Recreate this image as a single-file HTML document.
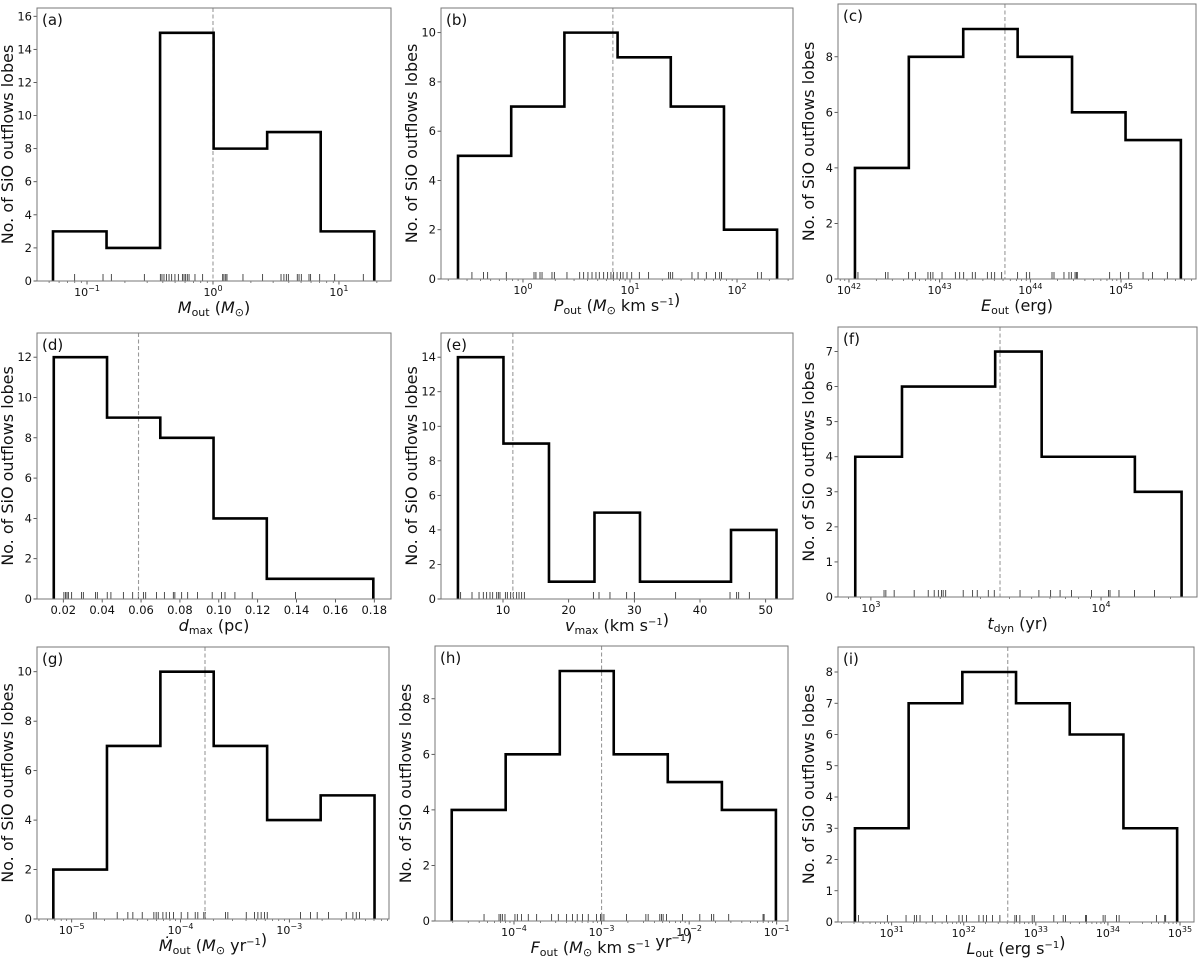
<!DOCTYPE html>
<html><head><meta charset="utf-8"><style>
html,body{margin:0;padding:0;background:#fff;}
svg{display:block;font-family:"DejaVu Sans","Liberation Sans",sans-serif;}
</style></head><body>
<svg id="fig" width="1200" height="959" viewBox="0 0 1200 959" xmlns="http://www.w3.org/2000/svg"></svg>
<script>
// ---- data (log10 values for log-scaled panels) ----
const aEdges=[-1.27,-0.845,-0.42,0.005,0.43,0.855,1.28];
const aCounts=[3,2,15,8,9,3];
const aMedian=0.0;
const aRug=[-1.098,-0.873,-0.807,-0.545,-0.418,-0.405,-0.389,-0.370,-0.349,-0.328,-0.302,-0.275,-0.243,-0.230,-0.217,-0.204,-0.190,-0.143,-0.082,0.077,0.087,0.101,0.111,0.238,0.394,0.540,0.563,0.582,0.598,0.669,0.683,0.701,0.762,0.775,0.847,0.966,1.193];

const bEdges=[-0.607,-0.11,0.387,0.884,1.381,1.878,2.374];
const bCounts=[5,7,10,9,7,2];
const bMedian=0.84;
const bRug=[-0.477,-0.368,-0.330,-0.156,0.103,0.121,0.159,0.178,0.271,0.293,0.411,0.530,0.567,0.607,0.645,0.682,0.713,0.754,0.791,0.822,0.847,0.879,0.910,0.935,0.972,1.016,1.087,1.174,1.361,1.377,1.399,1.579,1.636,1.713,1.798,1.838,1.854,2.193,2.227];

const cEdges=[42.066,42.66,43.26,43.86,44.46,45.05,45.66];
const cCounts=[4,8,9,8,6,5];
const cMedian=43.72;
const cRug=[42.099,42.404,42.430,42.658,42.732,42.871,42.901,42.926,43.026,43.173,43.221,43.265,43.360,43.393,43.526,43.570,43.607,43.684,43.860,43.956,43.993,44.239,44.261,44.371,44.426,44.452,44.493,44.507,44.518,44.875,44.993,45.085,45.243,45.346,45.511];

const dEdges=[0.0151,0.0425,0.0699,0.0973,0.1247,0.1521,0.1795];
const dCounts=[12,9,8,4,1,1];
const dMedian=0.0587;
const dRug=[0.0203,0.0212,0.0219,0.0226,0.0243,0.0294,0.0303,0.0366,0.0375,0.0426,0.0445,0.0509,0.0557,0.0586,0.0612,0.0624,0.0680,0.0720,0.0766,0.0774,0.0809,0.0840,0.0891,0.0966,0.1014,0.1032,0.1083,0.1172,0.1395];

const eEdges=[3.14,10.07,17.0,23.93,30.86,37.79,44.72,51.65];
const eCounts=[14,9,1,5,1,1,4];
const eMedian=11.5;
const eRug=[3.55,5.28,6.35,7.0,7.51,8.02,8.43,9.04,9.29,9.54,10.36,10.66,11.17,11.57,12.08,12.44,12.84,13.25,23.76,24.62,26.29,28.83,30.0,36.29,44.57,45.58,45.89,47.51];

const fEdges=[2.932,3.135,3.337,3.540,3.742,3.945,4.147,4.350];
const fCounts=[4,6,6,7,4,4,3];
const fMedian=3.561;
const fRug=[3.057,3.065,3.101,3.188,3.249,3.275,3.293,3.307,3.314,3.325,3.401,3.442,3.462,3.510,3.536,3.648,3.730,3.781,3.822,3.872,3.959,4.032,4.039,4.078,4.145,4.232];

const gEdges=[-5.169,-4.676,-4.185,-3.695,-3.204,-2.712,-2.217];
const gCounts=[2,7,10,7,4,5];
const gMedian=-3.775;
const gRug=[-4.797,-4.775,-4.582,-4.484,-4.438,-4.352,-4.245,-4.224,-4.205,-4.162,-4.132,-4.101,-4.064,-3.994,-3.933,-3.865,-3.841,-3.786,-3.773,-3.586,-3.565,-3.396,-3.320,-3.289,-3.259,-3.228,-3.203,-2.897,-2.805,-2.744,-2.640,-2.477,-2.416,-2.385,-2.355];

const hEdges=[-4.711,-4.095,-3.477,-2.861,-2.244,-1.626,-1.009];
const hCounts=[4,6,9,6,5,4];
const hMedian=-3.0;
const hRug=[-4.342,-4.171,-4.152,-4.133,-4.103,-3.989,-3.962,-3.913,-3.837,-3.741,-3.570,-3.494,-3.399,-3.331,-3.278,-3.217,-3.152,-3.057,-3.011,-2.996,-2.973,-2.715,-2.494,-2.468,-2.335,-2.316,-2.297,-2.259,-2.076,-1.878,-1.745,-1.719,-1.548,-1.156,-1.144];

const iEdges=[30.49,31.235,31.98,32.725,33.47,34.215,34.96];
const iCounts=[3,7,8,7,6,3];
const iMedian=32.61;
const iRug=[30.538,30.940,31.199,31.314,31.346,31.393,31.564,31.762,31.933,31.979,32.039,32.210,32.270,32.316,32.400,32.501,32.709,32.732,32.778,32.949,32.977,33.249,33.379,33.411,33.688,33.702,33.933,33.961,34.118,34.155,34.672,34.788,34.801];

const linTicksD=[0.02,0.04,0.06,0.08,0.10,0.12,0.14,0.16,0.18];
const linTicksE=[10,20,30,40,50];

const S='<tspan dy="3" font-size="11">';
const SE='</tspan><tspan dy="-3"> </tspan>';
const P='<tspan dy="-6" font-size="10">';
const PE='</tspan><tspan dy="6"></tspan>';
const I=t=>'<tspan font-style="italic">'+t+'</tspan>';
const panels=[
 {id:'a',box:[37,8,391,281],log:true,xr:[-1.397,1.413],edges:aEdges,counts:aCounts,med:aMedian,rug:aRug,ystep:2,xl:I('M')+S+'out'+SE+'('+I('M')+S+'⊙</tspan><tspan dy="-3">)</tspan>'},
 {id:'b',box:[441,8,793,279],log:true,xr:[-0.766,2.523],edges:bEdges,counts:bCounts,med:bMedian,rug:bRug,ystep:2,xl:I('P')+S+'out'+SE+'('+I('M')+S+'⊙</tspan><tspan dy="-3"> km s</tspan>'+P+'−1'+PE+'<tspan>)</tspan>'},
 {id:'c',box:[838,4,1196,279],log:true,xr:[41.879,45.827],edges:cEdges,counts:cCounts,med:cMedian,rug:cRug,ystep:2,xl:I('E')+S+'out'+SE+'(erg)'},
 {id:'d',box:[37,333,391,599],log:false,xr:[0.00647,0.1886],edges:dEdges,counts:dCounts,med:dMedian,rug:dRug,ystep:2,ticks:linTicksD,fmt:v=>v.toFixed(2),xl:I('d')+S+'max'+SE+'(pc)'},
 {id:'e',box:[441,333,793,599],log:false,xr:[0.559,54.16],edges:eEdges,counts:eCounts,med:eMedian,rug:eRug,ystep:2,ticks:linTicksE,fmt:v=>String(v),xl:I('v')+S+'max'+SE+'(km s'+P+'−1'+PE+'<tspan>)</tspan>'},
 {id:'f',box:[838,327,1197,597],log:true,xr:[2.857,4.417],edges:fEdges,counts:fCounts,med:fMedian,rug:fRug,ystep:1,xl:I('t')+S+'dyn'+SE+'(yr)'},
 {id:'g',box:[37,647,389,919],log:true,xr:[-5.319,-2.084],edges:gEdges,counts:gCounts,med:gMedian,rug:gRug,ystep:2,xl:I('Ṁ')+S+'out'+SE+'('+I('M')+S+'⊙</tspan><tspan dy="-3"> yr</tspan>'+P+'−1'+PE+'<tspan>)</tspan>'},
 {id:'h',box:[435,646,788,921],log:true,xr:[-4.902,-0.871],edges:hEdges,counts:hCounts,med:hMedian,rug:hRug,ystep:2,xl:I('F')+S+'out'+SE+'('+I('M')+S+'⊙</tspan><tspan dy="-3"> km s</tspan>'+P+'−1'+PE+'<tspan> yr</tspan>'+P+'−1'+PE+'<tspan>)</tspan>'},
 {id:'i',box:[838,647,1194,922],log:true,xr:[30.255,35.194],edges:iEdges,counts:iCounts,med:iMedian,rug:iRug,ystep:1,xl:I('L')+S+'out'+SE+'(erg s'+P+'−1'+PE+'<tspan>)</tspan>'}
];

const svg=document.getElementById('fig');
const NS='http://www.w3.org/2000/svg';
function mk(tag,attrs,parent){const e=document.createElementNS(NS,tag);for(const k in attrs)e.setAttribute(k,attrs[k]);parent.appendChild(e);return e;}

panels.forEach(p=>{
  const [L,T,R,B]=p.box;
  const g=mk('g',{},svg);
  
  
  const ymax=1.1*Math.max(...p.counts);
  const X=v=>L+(v-p.xr[0])/(p.xr[1]-p.xr[0])*(R-L);
  const Y=v=>B-v/ymax*(B-T);
  for(let v=0;v<=ymax;v+=p.ystep){
    const y=Y(v);
    const t=mk('line',{x1:L-3.5,x2:L,y1:y,y2:y,stroke:'#333','stroke-width':0.8},g);
    
    
    const tx=mk('text',{x:L-5,y:y+4,'font-size':11.5,'text-anchor':'end',fill:'#111'},g);
    
    
    tx.textContent=String(v);
  }
  if(p.log){
    for(let n=Math.floor(p.xr[0]);n<=Math.ceil(p.xr[1]);n++){
      for(let k=1;k<10;k++){
        const lv=n+Math.log10(k);
        if(lv<p.xr[0]||lv>p.xr[1])continue;
        const x=X(lv);
        const major=k===1;
        const t=mk('line',{x1:x,x2:x,y1:B,y2:B+(major?3.5:2),stroke:'#333','stroke-width':major?0.8:0.6},g);
        
        
        if(major){
          const tx=mk('text',{x:x,y:B+15,'font-size':11,'text-anchor':'middle',fill:'#111'},g);
          
          
          tx.innerHTML='10<tspan dy="-5" font-size="8">'+(n<0?'−'+(-n):n)+'</tspan>';
        }
      }
    }
  } else {
    p.ticks.forEach(v=>{
      const x=X(v);
      const t=mk('line',{x1:x,x2:x,y1:B,y2:B+3.5,stroke:'#333','stroke-width':0.8},g);
      
      
      const tx=mk('text',{x:x,y:B+15,'font-size':11.5,'text-anchor':'middle',fill:'#111'},g);
      
      
      tx.textContent=p.fmt(v);
    });
  }
  p.rug.forEach(v=>{
    const x=X(v);
    const r=mk('line',{x1:x,x2:x,y1:B,y2:B-7,stroke:'#222','stroke-width':0.8},g);
    
    
  });
  const mx=X(p.med);
  const md=mk('line',{x1:mx,x2:mx,y1:T,y2:B,stroke:'#999','stroke-width':1.1,'stroke-dasharray':'4,2.5'},g);
  
  
  let d='M'+X(p.edges[0])+','+Y(0);
  p.counts.forEach((c,i)=>{d+=' L'+X(p.edges[i])+','+Y(c)+' L'+X(p.edges[i+1])+','+Y(c);});
  d+=' L'+X(p.edges[p.edges.length-1])+','+Y(0);
  const h=mk('path',{d:d,fill:'none',stroke:'#000','stroke-width':2.6,'stroke-linejoin':'miter'},g);
  
  
  const fr=mk('rect',{x:L,y:T,width:R-L,height:B-T,fill:'none',stroke:'#777','stroke-width':1},g);
  
  
  const pl=mk('text',{x:L+5,y:T+17,'font-size':15,fill:'#111'},g);
  
  
  pl.textContent='('+p.id+')';
  const xl=mk('text',{x:(L+R)/2,y:B+32,'font-size':16,'text-anchor':'middle',fill:'#111'},g);
  
  
  xl.innerHTML=p.xl;
  const cy=(T+B)/2, cx=L-24;
  const yl=mk('text',{x:cx,y:cy,'font-size':16,'text-anchor':'middle',fill:'#111',transform:'rotate(-90 '+cx+' '+cy+')'},g);
  
  
  yl.textContent='No. of SiO outflows lobes';
});
</script>
</body></html>
